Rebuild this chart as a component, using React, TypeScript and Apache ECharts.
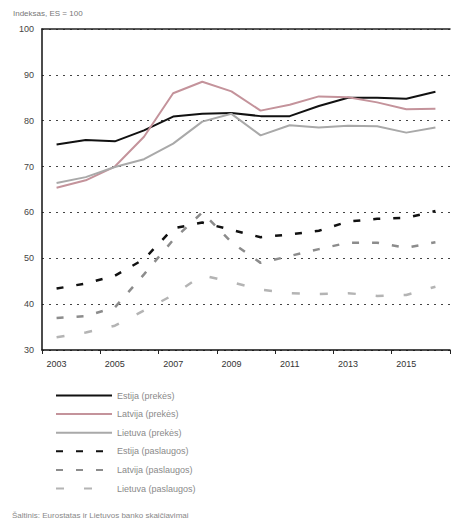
import React, { useEffect, useRef } from "react";
import * as echarts from "echarts";

const years = ["2003", "2004", "2005", "2006", "2007", "2008", "2009", "2010", "2011", "2012", "2013", "2014", "2015", "2016"];
const estPrices = [74.8, 75.8, 75.5, 77.9, 80.9, 81.5, 81.7, 81.0, 81.0, 83.2, 85.0, 85.0, 84.8, 86.3];
const latPrices = [65.4, 67.0, 70.0, 76.5, 86.0, 88.5, 86.4, 82.2, 83.5, 85.3, 85.1, 84.0, 82.5, 82.6];
const litPrices = [66.4, 67.7, 69.9, 71.6, 75.0, 79.8, 81.5, 76.8, 79.0, 78.5, 78.9, 78.8, 77.4, 78.5];
const estServices = [43.4, 44.5, 46.2, 49.8, 56.5, 57.8, 56.2, 54.6, 55.2, 56.0, 58.0, 58.6, 58.8, 60.3];
const latServices = [37.0, 37.4, 39.3, 46.5, 54.0, 60.0, 53.5, 49.0, 50.5, 52.0, 53.4, 53.4, 52.3, 53.5];
const litServices = [32.8, 33.8, 35.3, 38.6, 42.0, 46.3, 44.8, 43.2, 42.4, 42.2, 42.4, 41.8, 42.0, 43.8];
const seriesNames = [
  "Estija (prekės)",
  "Latvija (prekės)",
  "Lietuva (prekės)",
  "Estija (paslaugos)",
  "Latvija (paslaugos)",
  "Lietuva (paslaugos)",
];
const yTitle = "Indeksas, ES = 100";
const sourceText = "Šaltinis: Eurostatas ir Lietuvos banko skaičiavimai";

export default function App() {
  const ref = useRef<HTMLDivElement>(null);
  useEffect(() => {
    if (!ref.current) return;
    const chart = echarts.init(ref.current, null, { renderer: "svg" });
    const font = "Liberation Sans, Arial, sans-serif";
    const mk = (name: string, data: number[], color: string, width: number, type: any) => ({
      name,
      type: "line",
      data,
      symbol: "none",
      smooth: false,
      lineStyle: { color, width, type },
      itemStyle: { color },
    });
    chart.setOption({
      animation: false,
      backgroundColor: "#fff",
      textStyle: { fontFamily: font },
      grid: { left: 42, right: 1, top: 29, bottom: 172, containLabel: false },
      xAxis: [
        {
          type: "category",
          data: years,
          boundaryGap: true,
          axisLine: { show: true, lineStyle: { color: "#111", width: 1.5 } },
          axisTick: { show: true, alignWithLabel: false, length: 4, lineStyle: { color: "#222" } },
          axisLabel: {
            interval: 1,
            color: "#333",
            fontSize: 9,
            margin: 9,
          },
        },
        {
          type: "category",
          data: years,
          position: "top",
          axisLine: { show: true, lineStyle: { color: "#222", width: 1.5 } },
          axisTick: { show: false },
          axisLabel: { show: false },
        },
      ],
      yAxis: {
        type: "value",
        min: 30,
        max: 100,
        interval: 10,
        axisLine: { show: true, lineStyle: { color: "#111", width: 1.5 } },
        axisTick: { show: false },
        axisLabel: { color: "#444", fontSize: 9, margin: 8 },
        splitLine: { show: true, lineStyle: { color: "#444", width: 1, type: [2, 5] } },
      },
      legend: {
        orient: "vertical",
        left: 50,
        top: 386,
        itemWidth: 56,
        itemHeight: 10,
        itemGap: 9.6,
        itemStyle: { opacity: 0 },
        textStyle: { color: "#8a8a8a", fontSize: 9, fontFamily: font },
        data: seriesNames,
      },
      graphic: [
        {
          type: "text",
          left: 13,
          top: 9,
          style: { text: yTitle, fill: "#777", fontSize: 8, fontFamily: font },
        },
        {
          type: "text",
          left: 12,
          top: 511,
          style: { text: sourceText, fill: "#888", fontSize: 8, fontFamily: font },
        },
      ],
      series: [
        mk(seriesNames[0], estPrices, "#111111", 2, "solid"),
        mk(seriesNames[1], latPrices, "#c4939b", 2, "solid"),
        mk(seriesNames[2], litPrices, "#a9a9a9", 2, "solid"),
        mk(seriesNames[3], estServices, "#111111", 2.5, [7, 13]),
        mk(seriesNames[4], latServices, "#8c8c8c", 2.5, [7, 13]),
        mk(seriesNames[5], litServices, "#b4b4b4", 2.5, [8, 20]),
      ],
    });
    return () => chart.dispose();
  }, []);
  return <div ref={ref} style={{ position: "fixed", left: 0, top: 0, width: 451, height: 522 }} />;
}
